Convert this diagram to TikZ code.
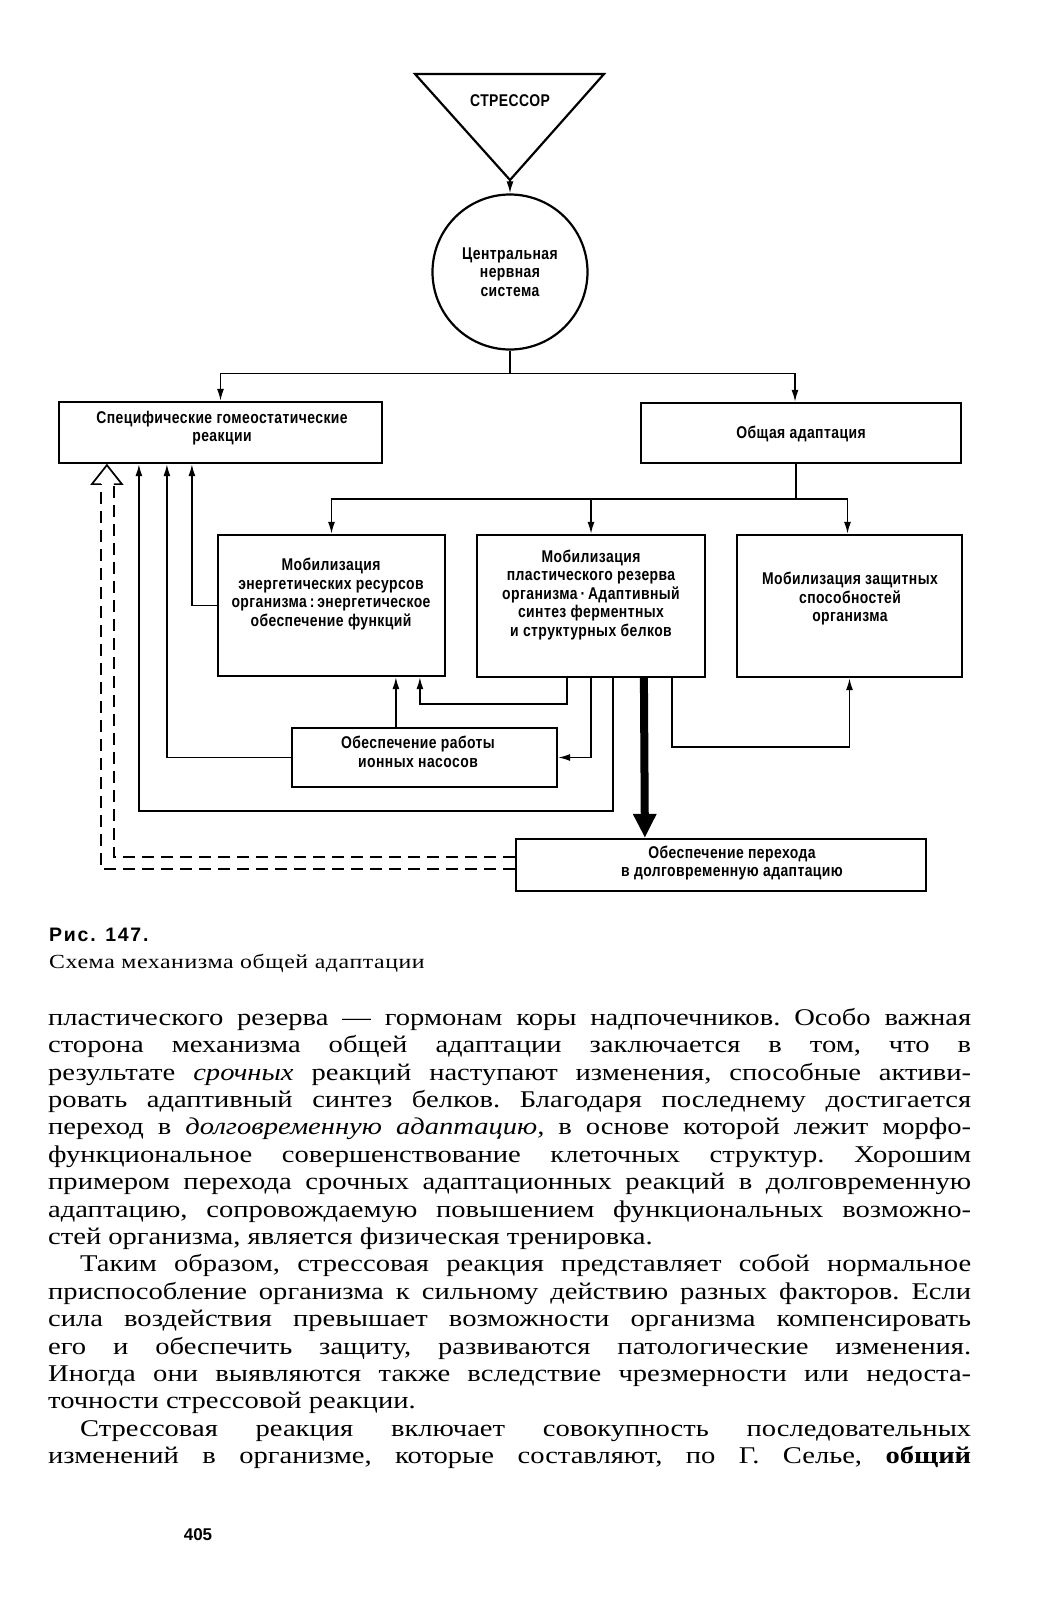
\documentclass[tikz,border=0pt]{standalone}
\usepackage{fontspec}
\setmainfont{Liberation Serif}
\newfontfamily\diag{Liberation Sans}
\newfontfamily\diagb[FakeStretch=0.82,LetterSpace=2.5]{Liberation Sans Bold}
\newfontfamily\bodyf[FakeStretch=1.19]{Liberation Serif}
\usetikzlibrary{arrows.meta,calc}
\tikzset{
  box/.style={draw, line width=2.2pt, rectangle, inner sep=0pt},
  lbl/.style={inner sep=0pt, align=center, font=\diagb\fontsize{17}{18.5}\selectfont},
  conn/.style={line width=1.7pt},
  arr/.style={conn, -{Latex[length=12pt,width=7pt]}},
  dsh/.style={conn, dash pattern=on 12pt off 7pt},
  thick arrow/.style={line width=8pt, -{Triangle[length=24pt,width=22pt]}},
}
\newcommand{\jl}[1]{\makebox[\linewidth][s]{#1}\\}
\begin{document}
\begin{tikzpicture}[x=1pt,y=-1pt]
\useasboundingbox (0,0) rectangle (1047,1601);
\fill[white] (0,0) rectangle (1047,1601);

% stressor triangle
\coordinate (tl) at (415,74);
\coordinate (tr) at (604,74);
\coordinate (apex) at (510,180);
\draw[line width=2.2pt, line join=miter] (tl) -- (tr) -- (apex) -- cycle;
\node[lbl] (str) at (510,101) {СТРЕССОР};

% central nervous system
\node[draw, circle, line width=2.2pt, minimum size=155pt, inner sep=0pt, lbl] (cns) at (510,272)
  {Центральная\\нервная\\система};

% boxes
\node[box, minimum width=323pt, minimum height=61pt] (spec) at (220.5,432.5) {};
\node[lbl] (spec-t) at (222,428) {Специфические гомеостатические\\реакции};
\node[box, minimum width=320pt, minimum height=60pt] (gen) at (801,433) {};
\node[lbl] (gen-t) at (801,434) {Общая адаптация};

\node[box, minimum width=227pt, minimum height=141pt] (energy) at (331.5,605.5) {};
\node[lbl] (energy-t) at (331,594) {Мобилизация\\энергетических ресурсов\\организма\,:\,энергетическое\\обеспечение функций};
\node[box, minimum width=228pt, minimum height=142pt] (plastic) at (591,606) {};
\node[lbl] (plastic-t) at (591,595) {Мобилизация\\пластического резерва\\организма\,·\,Адаптивный\\синтез ферментных\\и структурных белков};
\node[box, minimum width=225pt, minimum height=142pt] (defense) at (849.5,606) {};
\node[lbl] (defense-t) at (850,599) {Мобилизация защитных\\способностей\\организма};

\node[box, minimum width=265pt, minimum height=59pt] (ion) at (424.5,757.5) {};
\node[lbl] (ion-t) at (418,752) {Обеспечение работы\\ионных насосов};

\node[box, minimum width=410pt, minimum height=52pt] (longterm) at (721,865) {};
\node[lbl] (longterm-t) at (732,863) {Обеспечение перехода\\в долговременную адаптацию};

% connectors
\draw[arr] (apex) -- (cns.north);
\coordinate (j1) at ($(cns.south)+(0,23)$);
\draw[conn] (cns.south) -- (j1);
\draw[arr] (j1) -| (spec.north);
\draw[arr] (j1) -| ($(gen.north)+(-6,0)$);

\coordinate (j2) at ($(gen.south)+(-5,35)$);
\draw[conn] ($(gen.south)+(-5,0)$) -- (j2);
\draw[arr] (j2) -| (energy.north);
\draw[arr] (j2) -| (plastic.north);
\draw[arr] (j2) -| ($(defense.north)+(-2,0)$);

% feedback to specific reactions
\draw[arr] (energy.west) -| ($(spec.south west)+(134,0)$);
\draw[arr] (ion.west) -| ($(spec.south west)+(109,0)$);
\draw[arr] ($(plastic.south west)+(137,0)$) -- ++(0,133) -| ($(spec.south west)+(81,0)$);

% plastic -> energy, ion
\draw[arr] ($(plastic.south west)+(91,0)$) -- ++(0,26) -| ($(energy.south west)+(203,0)$);
\draw[arr] ($(ion.north west)+(105,0)$) -- ($(energy.south west)+(179,0)$);
\draw[arr] ($(plastic.south west)+(115,0)$) |- (ion.east);

% plastic -> defense
\draw[arr] ($(plastic.south west)+(196,0)$) -- ++(0,69) -| (defense.south);

% thick arrow to long-term adaptation
\draw[thick arrow] ($(plastic.south west)+(168,0)$) -- ($(longterm.north west)+(130,0)$);

% dashed double arrow from long-term adaptation
\coordinate (htip) at ($(spec.south west)+(49,1)$);
\coordinate (hl) at ($(htip)+(-6,19)$);
\coordinate (hr) at ($(htip)+(7,19)$);
\draw[dsh] ($(longterm.north west)+(0,19)$) -| (hr);
\draw[dsh] ($(longterm.north west)+(0,31)$) -| (hl);
\draw[conn, line join=miter] (hl) -- ++(-9,0) -- (htip) -- ($(htip)+(15,19)$) -- (hr);

% caption
\node[anchor=west, inner sep=0pt] (fig) at (49,935)
  {\diag\bfseries\fontsize{19.5}{20}\selectfont\addfontfeature{LetterSpace=9}Рис. 147.};
\node[anchor=west, inner sep=0pt] (figcap) at (49,963)
  {\bodyf\fontsize{20}{22}\selectfont\addfontfeature{LetterSpace=3}Схема механизма общей адаптации};

% body text
\node[anchor=north west, inner sep=0pt] (body) at (48,1008) {%
\begin{minipage}{923pt}\bodyf\fontsize{24}{27.4}\selectfont\parindent=0pt\frenchspacing
\jl{пластического резерва — гормонам коры надпочечников. Особо важная}
\jl{сторона механизма общей адаптации заключается в том, что в}
\jl{результате \textit{срочных} реакций наступают изменения, способные активи-}
\jl{ровать адаптивный синтез белков. Благодаря последнему достигается}
\jl{переход в \textit{долговременную адаптацию,} в основе которой лежит морфо-}
\jl{функциональное совершенствование клеточных структур. Хорошим}
\jl{примером перехода срочных адаптационных реакций в долговременную}
\jl{адаптацию, сопровождаемую повышением функциональных возможно-}
стей организма, является физическая тренировка.\\
\hspace*{32pt}\makebox[891pt][s]{Таким образом, стрессовая реакция представляет собой нормальное}\\
\jl{приспособление организма к сильному действию разных факторов. Если}
\jl{сила воздействия превышает возможности организма компенсировать}
\jl{его и обеспечить защиту, развиваются патологические изменения.}
\jl{Иногда они выявляются также вследствие чрезмерности или недоста-}
точности стрессовой реакции.\\
\hspace*{32pt}\makebox[891pt][s]{Стрессовая реакция включает совокупность последовательных}\\
\makebox[\linewidth][s]{изменений в организме, которые составляют, по Г. Селье, \textbf{общий}}
\end{minipage}};

% page number
\node[inner sep=0pt] (page) at (198,1535) {\diag\bfseries\fontsize{17}{18}\selectfont 405};
\end{tikzpicture}
\end{document}
